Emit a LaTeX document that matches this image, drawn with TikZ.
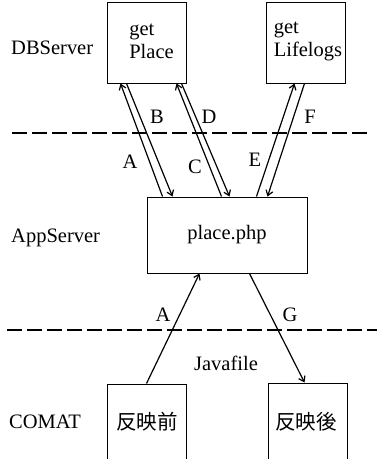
\documentclass[tikz,border=0pt]{standalone}
\usepackage{fontspec}
\setmainfont{Liberation Serif}
\newfontfamily\cjk{Noto Sans CJK JP}
\usetikzlibrary{calc,arrows.meta}
\tikzset{
  box/.style={draw, line width=1pt, minimum width=79pt, inner sep=0pt},
  lbl/.style={inner sep=0pt, font=\fontsize{20.5}{23}\selectfont},
  conn/.style={line width=1.2pt, -{Straight Barb[length=5pt,width=7pt,line width=1.2pt]}},
  sep/.style={line width=1.4pt, dash pattern=on 15pt off 5pt}
}
\begin{document}
\begin{tikzpicture}[x=1pt,y=1pt]
\useasboundingbox (0,0) rectangle (377,-459);
\clip (0,0) rectangle (377,-459);
% separators
\draw[sep] (12,-133) -- (370,-133);
\draw[sep] (7,-330) -- (380,-330);
% boxes
\node[box, minimum height=81pt] (gp) at (146.5,-42.5) {};
\node[box, minimum height=81pt] (gl) at (305.5,-42.5) {};
\node[box, minimum width=160pt, minimum height=76pt, lbl] (p) at (227,-235) {place.php};
\node[box, minimum height=96pt] (b1) at (146.5,-432) {};
\node[box, minimum height=96pt] (b2) at (307.5,-431) {};
% box texts
\node[lbl, align=left] (gpt) at (151.5,-41) {get\\Place};
\node[lbl, align=left] (glt) at (308,-41) {get\\Lifelogs};
\node[lbl] (b1t) at (147,-422) {\cjk 反映前};
\node[lbl] (b2t) at (306,-422) {\cjk 反映後};
% layer labels
\node[lbl, anchor=west] (db) at (11,-48) {DBServer};
\node[lbl, anchor=west] (app) at (11,-238) {AppServer};
\node[lbl, anchor=west] (com) at (9,-422) {COMAT};
\node[lbl] (jf) at (226,-363) {Javafile};
% connectors
\draw[conn] ($(p.north west)+(16,0)$) -- ($(gp.south west)+(14,0)$);
\draw[conn] ($(gp.south west)+(20,0)$) -- ($(p.north west)+(26,0)$);
\draw[conn] ($(p.north west)+(75,0)$) -- ($(gp.south west)+(70,0)$);
\draw[conn] ($(gp.south west)+(75,0)$) -- ($(p.north west)+(83,0)$);
\draw[conn] ($(p.north west)+(110,0)$) -- ($(gl.south west)+(29,0)$);
\draw[conn] ($(gl.south west)+(39,0)$) -- ($(p.north west)+(121,0)$);
\draw[conn] ($(b1.north west)+(40,0)$) -- ($(p.south west)+(53,0)$);
\draw[conn] ($(p.south west)+(103,0)$) -- ($(b2.north west)+(37,0)$);
% connector labels
\node[lbl] (la) at (130,-162) {A};
\node[lbl] (lb) at (157,-117) {B};
\node[lbl] (lc) at (195,-167) {C};
\node[lbl] (ld) at (209,-117) {D};
\node[lbl] (le) at (255,-160) {E};
\node[lbl] (lf) at (310,-117) {F};
\node[lbl] (la2) at (163,-315) {A};
\node[lbl] (lg) at (290,-315) {G};
\end{tikzpicture}
\end{document}
